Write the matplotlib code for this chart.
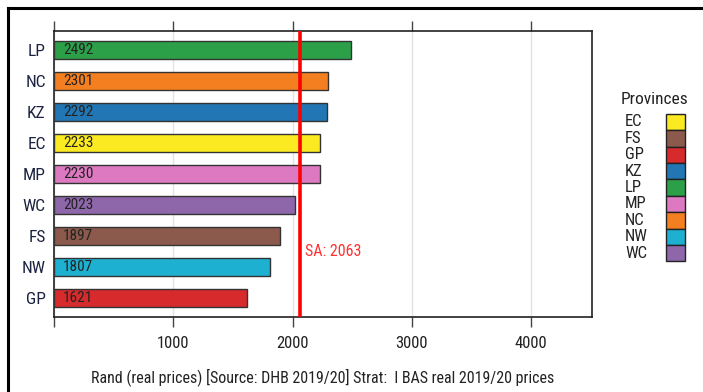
import matplotlib.pyplot as plt
from matplotlib.lines import Line2D
from matplotlib.patches import Rectangle

# provinces top -> bottom as drawn
provinces = ["LP", "NC", "KZ", "EC", "MP", "WC", "FS", "NW", "GP"]
values = [2492, 2301, 2292, 2233, 2230, 2023, 1897, 1807, 1621]
sa_value = 2063

legend_order = ["EC", "FS", "GP", "KZ", "LP", "MP", "NC", "NW", "WC"]
colors = {
    "EC": "#fbea21", "FS": "#8c5a4c", "GP": "#d62a2c", "KZ": "#2176b3",
    "LP": "#2ca049", "MP": "#dc79c0", "NC": "#f47f20", "NW": "#1eb0d0",
    "WC": "#8e66aa",
}
xticks = [0, 1000, 2000, 3000, 4000]
xticklabels = ["", "1000", "2000", "3000", "4000"]

plt.rcParams["font.family"] = ["Roboto Condensed", "DejaVu Sans"]
plt.rcParams["font.stretch"] = "condensed"

fig = plt.figure(figsize=(7.03, 3.92), dpi=100)
W, H = 703, 392
ax = fig.add_axes([54 / W, (H - 317) / H, (592 - 54) / W, (317 - 31) / H])

n = len(provinces)
ypos = [n - 1 - i for i in range(n)]
ax.barh(ypos, values, height=0.58, color=[colors[p] for p in provinces],
        edgecolor="#333333", linewidth=1, zorder=3)

for y, v in zip(ypos, values):
    ax.annotate(str(v), (0, y), xytext=(6.5, 0), textcoords="offset points",
                va="center", ha="left", fontsize=11, color="#222222", zorder=4)

ax.axvline(sa_value, color="#ff0000", linewidth=2.6, zorder=5)
ax.text(sa_value + 45, 1.5, f"SA: {sa_value}", color="#ff3030", fontsize=11.5,
        va="center", ha="left")

ax.set_xlim(0, 4510)
ax.set_ylim(-0.61, n - 1 + 0.61)
ax.set_xticks(xticks)
ax.set_xticklabels(xticklabels, fontsize=12, color="#222222")
ax.set_yticks(ypos)
ax.set_yticklabels(provinces, fontsize=12.5, color="#1c2340")
ax.tick_params(axis="y", length=0, pad=6)
ax.tick_params(axis="x", top=True, direction="out", length=7, width=1,
               color="#444444", pad=7)
ax.grid(axis="x", color="#e3e3e3", linewidth=1, zorder=0)
ax.set_axisbelow(True)
for s in ax.spines.values():
    s.set_color("#222222")
    s.set_linewidth(1.2)

ax.set_xlabel("Rand (real prices) [Source: DHB 2019/20] Strat:  I BAS real 2019/20 prices",
              fontsize=11.5, color="#222222", labelpad=12)

# legend drawn by hand: text left-aligned, swatches to the right
fig.text(655 / W, 1 - 99 / H, "Provinces", fontsize=12.5, ha="center", va="center",
         color="#222222")
row_h = 16.4
for i, p in enumerate(legend_order):
    yc = 122 + i * row_h
    fig.text(625 / W, 1 - yc / H, p, fontsize=12, ha="left", va="center", color="#222222")
    fig.add_artist(Rectangle((666 / W, 1 - (yc + row_h / 2) / H), 19 / W, row_h / H,
                             facecolor=colors[p], edgecolor="#222222", linewidth=1,
                             transform=fig.transFigure))

# outer frame lines (top and left)
fig.add_artist(Line2D([8 / W, 1.0], [1 - 8 / H, 1 - 8 / H], color="black", linewidth=2.2))
fig.add_artist(Line2D([8 / W, 8 / W], [0, 1 - 8 / H], color="black", linewidth=2.2))

fig.savefig("out.png", dpi=100)
